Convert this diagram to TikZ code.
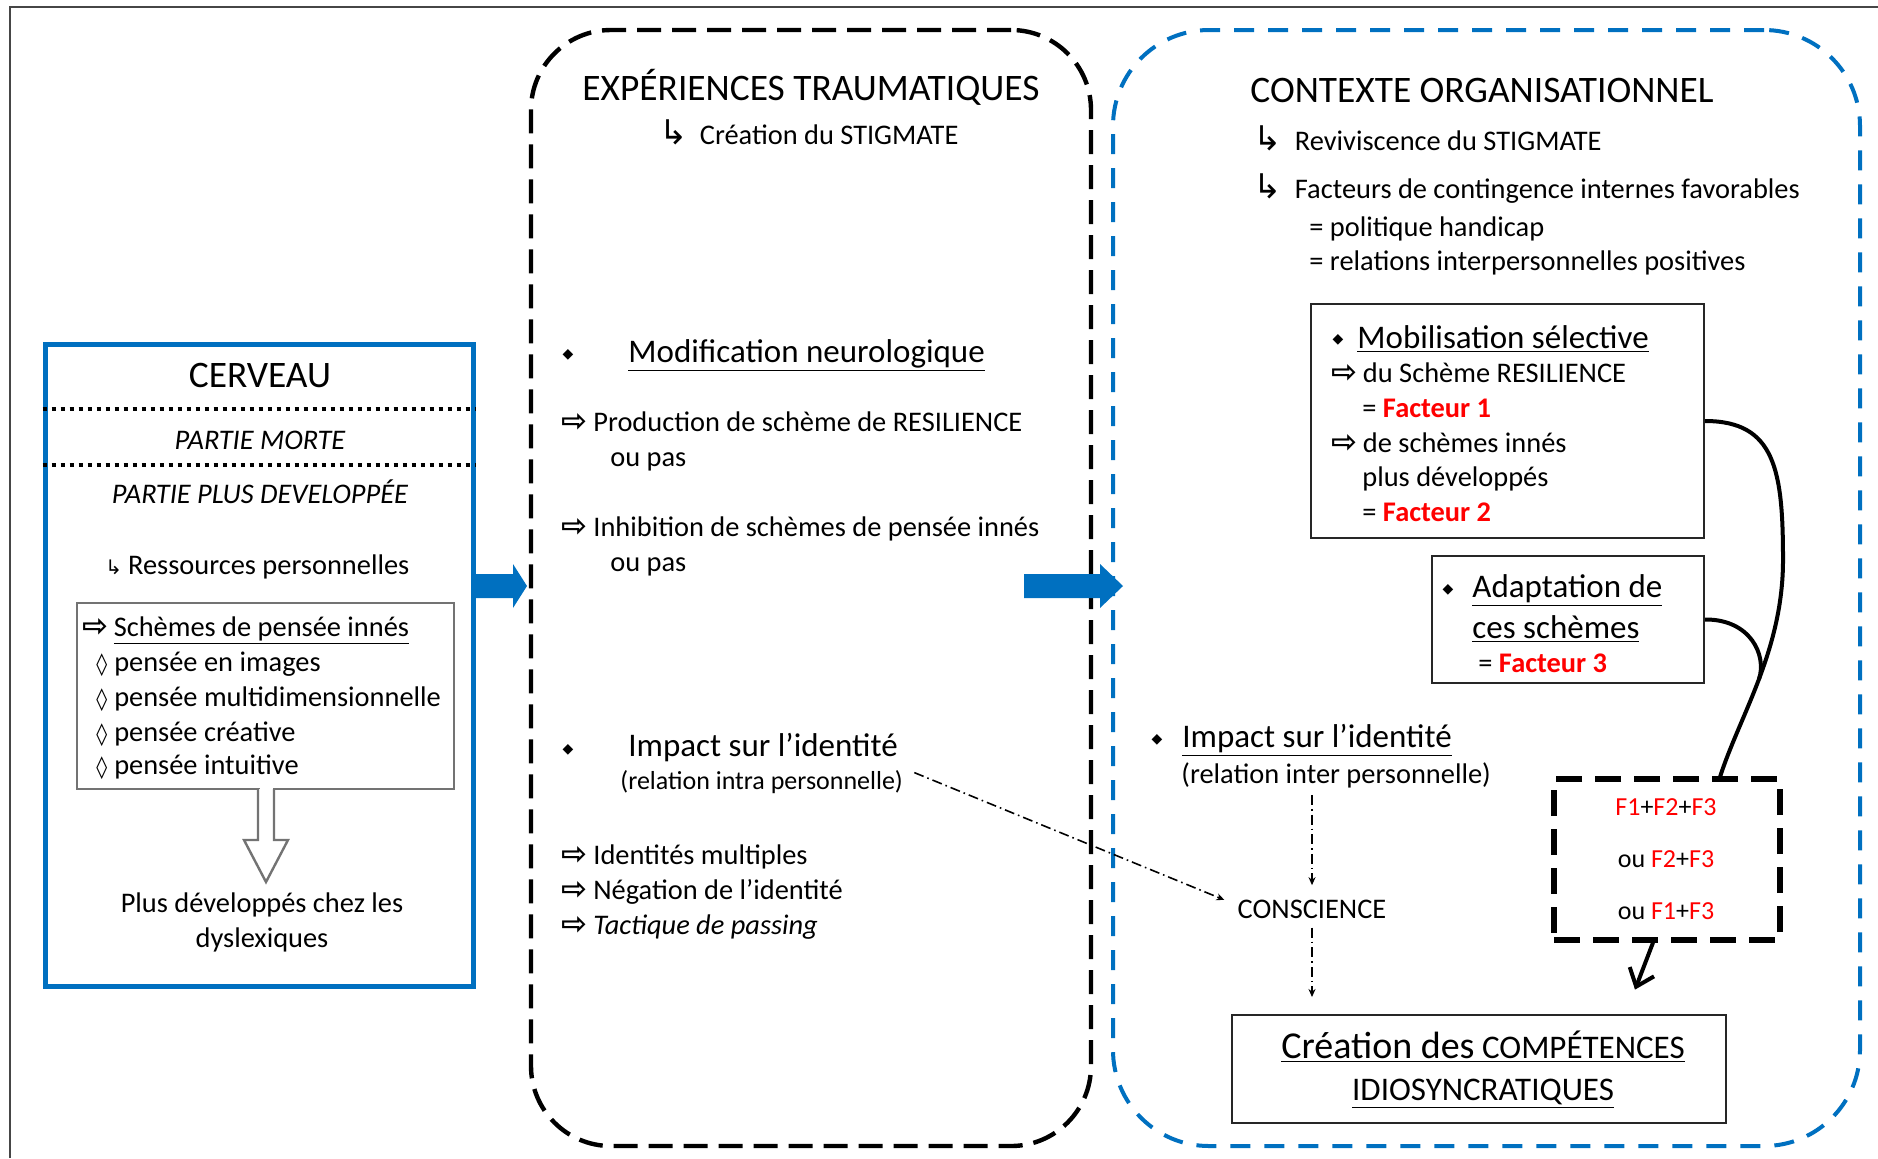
\documentclass[tikz,border=0pt]{standalone}
\usepackage{fontspec}
\setmainfont{Carlito}
\newfontfamily\fleches{DejaVu Sans}
\usetikzlibrary{arrows.meta, calc, fit, positioning}

\definecolor{bleuoffice}{RGB}{0,112,192}
\definecolor{rougefact}{RGB}{255,0,0}
\definecolor{trait}{RGB}{70,70,70}

\newcommand{\fsTitre}{\fontsize{18.7pt}{22pt}\selectfont}
\newcommand{\fsCorps}{\fontsize{14.2pt}{17pt}\selectfont}
\newcommand{\fsSousTitre}{\fontsize{16.5pt}{20pt}\selectfont}
\newcommand{\fsPetit}{\fontsize{13pt}{16pt}\selectfont}
\newcommand{\fsF}{\fontsize{13pt}{16pt}\selectfont}
\newcommand{\fsCrea}{\fontsize{19pt}{22pt}\selectfont}
\newcommand{\fsCaps}{\fontsize{16.5pt}{20pt}\selectfont}
\newcommand{\puce}{{\fleches\fontsize{7pt}{8pt}\selectfont ◆}}
\newcommand{\fleche}{{\fleches\bfseries\fontsize{15.5pt}{16pt}\selectfont ⇨}}
\newcommand{\losange}{{\fleches\fontsize{11pt}{14pt}\selectfont ◊}}
\newcommand{\petitretour}{{\fleches\fontsize{10pt}{12pt}\selectfont ↳}}
\newcommand{\grandretour}{{\fleches\fontsize{17pt}{18pt}\selectfont ↳}}
\newcommand{\fact}[1]{\textcolor{rougefact}{\textbf{#1}}}
\newcommand{\rf}[1]{\textcolor{rougefact}{#1}}

\begin{document}
\begin{tikzpicture}[
  x=0.5pt,
  y=-0.5pt,
  txt/.style={inner sep=0pt, anchor=base west, font=\fsCorps},
  centre/.style={inner sep=0pt, anchor=base, font=\fsCorps},
  cadrebleu/.style={draw=bleuoffice, line width=2.5pt, inner sep=0pt},
  pointilles/.style={line width=2pt, dash pattern=on 2pt off 2.5pt},
  zonenoire/.style={draw=black, line width=2.2pt, dash pattern=on 12pt off 5.5pt, rounded corners=40pt, inner sep=0pt},
  zonebleue/.style={draw=bleuoffice, line width=2pt, dash pattern=on 10pt off 7pt, rounded corners=48pt, inner sep=0pt},
  boite/.style={draw=black!85, line width=1pt, inner sep=0pt},
  boitegrise/.style={draw=black!55, line width=1.3pt, inner sep=0pt},
  facteurs/.style={draw=black, line width=2.6pt, dash pattern=on 13pt off 6.5pt, inner sep=0pt},
  lien/.style={line width=2pt},
  tiret/.style={line width=0.8pt, dash pattern=on 5pt off 2pt on 0.8pt off 2pt, -{Stealth[length=4pt, width=3.5pt]}},
  creuse/.style={draw=black!55, line width=1.2pt, fill=white}
  ]
    \useasboundingbox (0,0) rectangle (1878,1158);

    % cadre
    \draw[trait, line width=1pt] (10,1158) -- (10,7) -- (1878,7);

%%%%%%%%%%  CERVEAU
\node[cadrebleu, fit={(45,344) (473,986)}] (cerveau) {};
\node[centre, font=\fsTitre] (titrecerveau) at (260,387) {CERVEAU};
\draw[pointilles] (cerveau.west |- 0,409) -- (cerveau.east |- 0,409);
\node[centre, font=\fsCorps\itshape] (morte) at (260,449) {PARTIE MORTE};
\draw[pointilles] (cerveau.west |- 0,465) -- (cerveau.east |- 0,465);
\node[centre, font=\fsCorps\itshape] (developpee) at (260,503) {PARTIE PLUS DEVELOPPÉE};
\node[txt] (ressources) at (105,574) {\petitretour\hspace{3pt}Ressources personnelles};

% schemes de pensee
\node[boitegrise, fit={(77,603) (454,789)}] (liste) {};
\node[txt] (schemes) at (82,636) {\fleche\hspace{2.7pt}\underline{Schèmes de pensée innés}};
\node[txt] (images) at (96,671) {\losange\hspace{3.5pt}pensée en images};
\node[txt] (multi) at (96,706) {\losange\hspace{3.5pt}pensée multidimensionnelle};
\node[txt] (creative) at (96,741) {\losange\hspace{3.5pt}pensée créative};
\node[txt] (intuitive) at (96,774) {\losange\hspace{3.5pt}pensée intuitive};

% fleche creuse
\fill[white] (259.5,785) rectangle (272.5,793);
\draw[creuse] (258,789) -- (258,840) -- (244,840) -- (266,882) -- (288,840) -- (274,840) -- (274,789);
\node[centre] (dys1) at (262,912) {Plus développés chez les};
\node[centre] (dys2) at (262,947) {dyslexiques};

%%%%%%%%%%  EXPERIENCES
\node[zonenoire, fit={(531,30) (1091,1146)}] (experiences) {};
\node[centre, font=\fsTitre] (titreexp) at (811,100) {EXPÉRIENCES TRAUMATIQUES};
\node[txt] (stigmate) at (659,144) {\grandretour\hspace{6pt}Création du STIGMATE};

\node[inner sep=0pt] (puce1) at (568,355) {\puce};
\node[txt, font=\fsSousTitre] (neuro) at (628,362) {\underline{Modification neurologique}};
\node[txt] (production) at (561,431) {\fleche\hspace{3pt}Production de schème de RESILIENCE};
\node[txt] (oupas1) at (610,466) {ou pas};
\node[txt] (inhibition) at (561,536) {\fleche\hspace{3pt}Inhibition de schèmes de pensée innés};
\node[txt] (oupas2) at (610,571) {ou pas};

\node[inner sep=0pt] (puce2) at (568,750) {\puce};
\node[txt, font=\fsSousTitre] (impact1) at (628,756) {Impact sur l’identité};
\node[txt, font=\fsPetit] (intra) at (620,789) {(relation intra personnelle)};
\node[txt] (multiples) at (561,864) {\fleche\hspace{3pt}Identités multiples};
\node[txt] (negation) at (561,899) {\fleche\hspace{3pt}Négation de l’identité};
\node[txt] (passing) at (561,934) {\fleche\hspace{3pt}\textit{Tactique de passing}};

%%%%%%%%%%  CONTEXTE
\node[zonebleue, fit={(1113,30) (1860,1146)}] (contexte) {};
\node[txt, font=\fsTitre] (titrecontexte) at (1250,102) {CONTEXTE ORGANISATIONNEL};
\node[txt] (reviviscence) at (1253,150) {\grandretour\hspace{6.5pt}Reviviscence du STIGMATE};
\node[txt] (contingence) at (1253,198) {\grandretour\hspace{6.5pt}Facteurs de contingence internes favorables};
\node[txt] (politique) at (1309,236) {= politique handicap};
\node[txt] (relations) at (1309,270) {= relations interpersonnelles positives};

% mobilisation
\node[boite, fit={(1311,304) (1704,538)}] (mobil) {};
\node[inner sep=0pt] (puce3) at (1338,340) {\puce};
\node[txt, font=\fsSousTitre] (mobilisation) at (1357,348) {\underline{Mobilisation sélective}};
\node[txt] (resilience) at (1331,382) {\fleche\hspace{2.8pt}du Schème RESILIENCE};
\node[txt] (fact1) at (1362,417) {= \fact{Facteur 1}};
\node[txt] (innes) at (1331,452) {\fleche\hspace{2.8pt}de schèmes innés};
\node[txt] (devel) at (1362,486) {plus développés};
\node[txt] (fact2) at (1362,521) {= \fact{Facteur 2}};

% adaptation
\node[boite, fit={(1432,556) (1704,683)}] (adapt) {};
\node[inner sep=0pt] (puce4) at (1448,590) {\puce};
\node[txt, font=\fsSousTitre] (adaptation) at (1472,597) {\underline{Adaptation de}};
\node[txt, font=\fsSousTitre] (schemesbis) at (1472,638) {\underline{ces schèmes}};
\node[txt] (fact3) at (1478,672) {= \fact{Facteur 3}};

% identite
\node[inner sep=0pt] (puce5) at (1157,740) {\puce};
\node[txt, font=\fsSousTitre] (impact2) at (1182,747) {\underline{Impact sur l’identité}};
\node[txt] (inter) at (1181,783) {(relation inter personnelle)};
\node[centre] (conscience) at (1312,918) {CONSCIENCE};

% facteurs
\node[facteurs, fit={(1554,779) (1780,940)}] (facteurs) {};
\node[centre, font=\fsF] (combi1) at (1666,815) {\rf{F1}+\rf{F2}+\rf{F3}};
\node[centre, font=\fsF] (combi2) at (1666,867) {ou \rf{F2}+\rf{F3}};
\node[centre, font=\fsF] (combi3) at (1666,919) {ou \rf{F1}+\rf{F3}};

% competences
\node[boite, fit={(1232,1015) (1726,1123)}] (creation) {};
\node[centre, font=\fsCaps] (crea1) at (1483,1058) {\underline{{\fsCrea Création des} COMPÉTENCES}};
\node[centre, font=\fsCaps] (crea2) at (1483,1100) {\underline{IDIOSYNCRATIQUES}};

%%%%%%%%%%  fleches
\fill[bleuoffice] (cerveau.east |- 0,574) -- (513,574) -- (513,564) -- (527,586) -- (513,608) -- (513,598) -- (cerveau.east |- 0,598) -- cycle;
\fill[bleuoffice] (1024,574) -- (1100,574) -- (1100,564) -- (1123,586) -- (1100,608) -- (1100,598) -- (1024,598) -- cycle;

\coordinate (jonction) at ($(facteurs.north east)!0.54!(facteurs.north)$);
\coordinate (pointe) at ($(facteurs.south)+(-32,47)$);
\draw[lien] (mobil.east) .. controls (1775,421) and (1783,470) .. (1783,560) .. controls (1783,650) and (1740,715) .. (jonction) coordinate[pos=0.5] (fusion);
\draw[lien] (adapt.east) .. controls (1750,619) and (1767,655) .. (fusion);
\draw[lien, -{Straight Barb[length=8pt, width=13pt]}] ($(facteurs.south)+(-14,0)$) -- (pointe);

\draw[tiret] ($(intra.north east)+(11,3)$) -- ($(conscience.west)+(-13,-9)$);
\draw[tiret, shorten <=3.5pt, shorten >=7pt] (conscience.north |- inter.south) -- (conscience.north);
\draw[tiret, shorten <=4.5pt, shorten >=8.5pt] (conscience.south) -- (conscience.south |- creation.north);

\end{tikzpicture}
\end{document}
